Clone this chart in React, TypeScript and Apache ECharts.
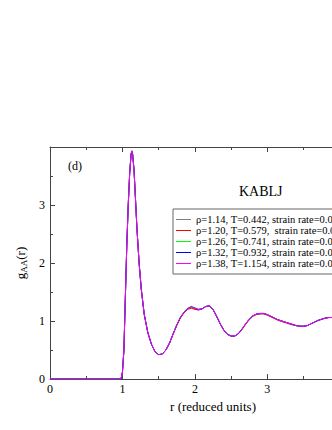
import React, { useEffect, useRef } from "react";
import * as echarts from "echarts";

const rValues = [
  0, 0.95, 0.98, 1.0, 1.02, 1.04, 1.06, 1.08, 1.1, 1.12, 1.13, 1.14, 1.16, 1.18, 1.2, 1.23, 1.26,
  1.3, 1.35, 1.4, 1.45, 1.5, 1.55, 1.6, 1.65, 1.7, 1.75, 1.8, 1.85, 1.9, 1.95, 2.0, 2.05, 2.1,
  2.15, 2.2, 2.25, 2.3, 2.35, 2.4, 2.45, 2.5, 2.55, 2.6, 2.65, 2.7, 2.75, 2.8, 2.85, 2.9, 2.95,
  3.0, 3.05, 3.1, 3.15, 3.2, 3.25, 3.3, 3.35, 3.4, 3.45, 3.5, 3.55, 3.6, 3.65, 3.7, 3.75, 3.8,
  3.85, 3.9, 3.95, 4.0, 4.05, 4.1, 4.15, 4.2, 4.25, 4.3, 4.35, 4.4, 4.45, 4.5,
];

const gRho114 = [
  0, 0, 0, 0.11, 0.48, 1.38, 2.3, 3.02, 3.58, 3.9, 3.94, 3.9, 3.62, 3.12, 2.6, 2.0, 1.55,
  1.12, 0.8, 0.6, 0.47, 0.42, 0.43, 0.5, 0.62, 0.78, 0.93, 1.06, 1.15, 1.22, 1.25, 1.21, 1.19, 1.21,
  1.25, 1.26, 1.2, 1.08, 0.95, 0.84, 0.77, 0.74, 0.74, 0.78, 0.86, 0.95, 1.03, 1.09, 1.12, 1.13, 1.13,
  1.11, 1.08, 1.05, 1.02, 1.0, 0.98, 0.96, 0.94, 0.92, 0.91, 0.91, 0.92, 0.95, 0.98, 1.01, 1.03, 1.05,
  1.06, 1.06, 1.06, 1.05, 1.03, 1.01, 0.99, 0.97, 0.96, 0.96, 0.97, 0.98, 1.0, 1.01,
];
const gRho120 = [
  0, 0, 0, 0.12, 0.5, 1.4, 2.3, 3.0, 3.55, 3.88, 3.92, 3.88, 3.6, 3.1, 2.6, 2.0, 1.55,
  1.12, 0.8, 0.6, 0.47, 0.42, 0.43, 0.5, 0.62, 0.77, 0.92, 1.05, 1.14, 1.2, 1.22, 1.2, 1.19, 1.21,
  1.25, 1.26, 1.2, 1.08, 0.95, 0.84, 0.77, 0.74, 0.74, 0.78, 0.85, 0.94, 1.02, 1.08, 1.11, 1.12, 1.12,
  1.1, 1.07, 1.04, 1.01, 0.99, 0.97, 0.95, 0.93, 0.92, 0.91, 0.91, 0.92, 0.95, 0.98, 1.01, 1.03, 1.05,
  1.06, 1.06, 1.06, 1.05, 1.03, 1.01, 0.99, 0.97, 0.96, 0.96, 0.97, 0.98, 1.0, 1.01,
];
const gRho126 = [
  0, 0, 0, 0.12, 0.5, 1.4, 2.3, 3.0, 3.55, 3.88, 3.92, 3.88, 3.6, 3.1, 2.6, 2.0, 1.55,
  1.12, 0.8, 0.6, 0.47, 0.42, 0.43, 0.5, 0.62, 0.78, 0.94, 1.07, 1.16, 1.22, 1.25, 1.23, 1.2, 1.21,
  1.25, 1.26, 1.2, 1.08, 0.95, 0.84, 0.77, 0.74, 0.74, 0.78, 0.86, 0.95, 1.03, 1.09, 1.12, 1.13, 1.13,
  1.11, 1.08, 1.05, 1.02, 1.0, 0.98, 0.96, 0.94, 0.92, 0.91, 0.91, 0.92, 0.95, 0.98, 1.01, 1.03, 1.05,
  1.06, 1.06, 1.06, 1.05, 1.03, 1.01, 0.99, 0.97, 0.96, 0.96, 0.97, 0.98, 1.0, 1.01,
];
const gRho132 = [
  0, 0, 0, 0.12, 0.5, 1.4, 2.3, 3.0, 3.55, 3.88, 3.92, 3.88, 3.6, 3.1, 2.6, 2.0, 1.55,
  1.12, 0.8, 0.6, 0.47, 0.42, 0.43, 0.5, 0.62, 0.78, 0.93, 1.06, 1.15, 1.21, 1.245, 1.22, 1.2, 1.21,
  1.25, 1.26, 1.2, 1.08, 0.95, 0.84, 0.77, 0.74, 0.74, 0.78, 0.86, 0.95, 1.03, 1.09, 1.12, 1.13, 1.13,
  1.11, 1.08, 1.05, 1.02, 1.0, 0.98, 0.96, 0.94, 0.92, 0.91, 0.91, 0.92, 0.95, 0.98, 1.01, 1.03, 1.05,
  1.06, 1.06, 1.06, 1.05, 1.03, 1.01, 0.99, 0.97, 0.96, 0.96, 0.97, 0.98, 1.0, 1.01,
];
const gRho138 = [
  0, 0, 0, 0.12, 0.5, 1.4, 2.3, 3.0, 3.55, 3.88, 3.92, 3.88, 3.6, 3.1, 2.6, 2.0, 1.55,
  1.12, 0.8, 0.6, 0.47, 0.42, 0.43, 0.5, 0.62, 0.78, 0.93, 1.06, 1.15, 1.21, 1.24, 1.22, 1.2, 1.21,
  1.25, 1.26, 1.2, 1.08, 0.95, 0.84, 0.77, 0.74, 0.74, 0.78, 0.86, 0.95, 1.03, 1.09, 1.12, 1.13, 1.13,
  1.11, 1.08, 1.05, 1.02, 1.0, 0.98, 0.96, 0.94, 0.92, 0.91, 0.91, 0.92, 0.95, 0.98, 1.01, 1.03, 1.05,
  1.06, 1.06, 1.06, 1.05, 1.03, 1.01, 0.99, 0.97, 0.96, 0.96, 0.97, 0.98, 1.0, 1.01,
];

const seriesNames = [
  "ρ=1.14, T=0.442, strain rate=0.001",
  "ρ=1.20, T=0.579,  strain rate=0.001",
  "ρ=1.26, T=0.741, strain rate=0.001",
  "ρ=1.32, T=0.932, strain rate=0.001",
  "ρ=1.38, T=1.154, strain rate=0.001",
];
const seriesValues = [gRho114, gRho120, gRho126, gRho132, gRho138];
const seriesColors = ["#808080", "#ff0000", "#00ff00", "#0000ff", "#ff00ff"];
const xTickLabels = ["0", "1", "2", "3"];

const FONT = "'Liberation Serif', 'Times New Roman', serif";

export default function App() {
  const ref = useRef<HTMLDivElement>(null);
  useEffect(() => {
    if (!ref.current) return;
    const chart = echarts.init(ref.current, null, { renderer: "svg" });
    const axisLine = { show: true, onZero: false, lineStyle: { color: "#444", width: 1 } };
    const tick = { show: true, inside: true, length: 5, lineStyle: { color: "#444" } };
    const minor = { show: true, splitNumber: 2, length: 3, lineStyle: { color: "#444" } };
    const xCommon = {
      type: "value" as const,
      min: 0,
      max: 4.5,
      interval: 1,
      splitLine: { show: false },
      axisLine,
      axisTick: tick,
      minorTick: minor,
    };
    const yCommon = {
      type: "value" as const,
      min: 0,
      max: 4,
      interval: 1,
      splitLine: { show: false },
      axisLine,
      axisTick: tick,
      minorTick: minor,
    };
    chart.setOption({
      animation: false,
      grid: { left: 50, top: 147, right: 64, bottom: 51 },
      legend: {
        orient: "vertical",
        left: 173,
        top: 209,
        itemWidth: 15,
        itemHeight: 1,
        itemGap: 0,
        icon: "rect",
        padding: [5, 6, 5, 3],
        borderColor: "#666",
        borderWidth: 1,
        textStyle: { fontFamily: FONT, fontSize: 10.5, color: "#000", lineHeight: 11 },
        data: seriesNames,
      },
      xAxis: [
        {
          ...xCommon,
          position: "bottom",
          name: "r (reduced units)",
          nameLocation: "middle",
          nameGap: 18,
          nameTextStyle: { fontFamily: FONT, fontSize: 13, color: "#000" },
          axisLabel: {
            fontFamily: FONT,
            fontSize: 12,
            color: "#000",
            margin: 4,
            formatter: (v: number) => (xTickLabels.includes(String(v)) ? String(v) : ""),
          },
        },
        { ...xCommon, position: "top", axisLabel: { show: false } },
      ],
      yAxis: [
        {
          ...yCommon,
          position: "left",
          name: "{g|g}{sub|AA}{g|(r)}",
          nameLocation: "middle",
          nameGap: 14,
          nameTextStyle: {
            fontFamily: FONT,
            color: "#000",
            rich: {
              g: { fontFamily: FONT, fontSize: 13, color: "#000" },
              sub: { fontFamily: FONT, fontSize: 9, color: "#000", padding: [7, 0, 0, 0] },
            },
          },
          axisLabel: {
            fontFamily: FONT,
            fontSize: 12,
            color: "#000",
            margin: 5,
            showMaxLabel: false,
          },
        },
        { ...yCommon, position: "right", axisLabel: { show: false } },
      ],
      graphic: [
        {
          type: "text",
          left: 68,
          top: 160,
          style: { text: "(d)", fontFamily: FONT, fontSize: 12, fill: "#000" },
        },
        {
          type: "text",
          left: 239,
          top: 184,
          style: { text: "KABLJ", fontFamily: FONT, fontSize: 14, fill: "#000" },
        },
      ],
      series: seriesNames.map((name, i) => ({
        name,
        type: "line",
        showSymbol: false,
        symbol: "none",
        color: seriesColors[i],
        lineStyle: { width: 1, color: seriesColors[i] },
        data: rValues.map((r, k) => [r, seriesValues[i][k]]),
      })),
    });
    return () => chart.dispose();
  }, []);
  return (
    <div
      style={{
        position: "absolute",
        left: 0,
        top: 0,
        width: 332,
        height: 430,
        overflow: "hidden",
        background: "#fff",
      }}
    >
      <div ref={ref} style={{ width: 440, height: 430 }} />
    </div>
  );
}
